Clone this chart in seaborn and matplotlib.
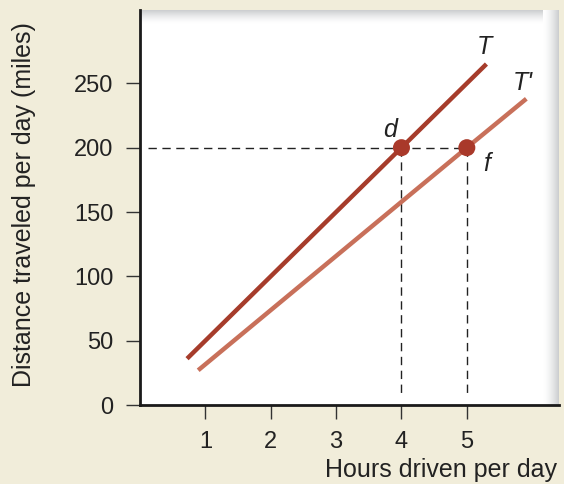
import numpy as np
import pandas as pd
import matplotlib
matplotlib.use('Agg')
import matplotlib.pyplot as plt
import seaborn as sns
from matplotlib.colors import LinearSegmentedColormap

# Values
hours_T = [0.72, 4.0, 5.3]
miles_T = [36, 200, 265]
hours_Tp = [0.89, 5.0, 5.91]
miles_Tp = [27, 200, 238]
point_hours = [4, 5]
point_miles = [200, 200]
x_ticks = [1, 2, 3, 4, 5]
y_ticks = [0, 50, 100, 150, 200, 250]

beige = '#f1edda'
dark_red = '#a63c2b'
light_red = '#c8705a'

sns.set_theme(style='white')
plt.rcParams['font.family'] = ['Liberation Sans', 'DejaVu Sans']

fig = plt.figure(figsize=(5.64, 4.84), dpi=100, facecolor=beige)
ax = fig.add_axes([140 / 564, 1 - 405 / 484, 419 / 564, 395 / 484])
ax.set_facecolor('white')

# Shaded top and right edges of the white panel
shade = LinearSegmentedColormap.from_list('shade', ['white', '#cbcdcf'])
grad = np.linspace(0, 1, 64) ** 1.5
ax.imshow(grad.reshape(-1, 1), cmap=shade, aspect='auto', origin='lower',
          extent=[0, 1, 1 - 14 / 395, 1], transform=ax.transAxes, zorder=0)
ax.imshow(grad.reshape(1, -1), cmap=shade, aspect='auto',
          extent=[1 - 16 / 419, 1, 0, 1], transform=ax.transAxes, zorder=0)

df_T = pd.DataFrame({'hours': hours_T, 'miles': miles_T})
df_Tp = pd.DataFrame({'hours': hours_Tp, 'miles': miles_Tp})
sns.lineplot(data=df_T, x='hours', y='miles', ax=ax, color=dark_red, lw=3.2,
             solid_capstyle='butt', zorder=3)
sns.lineplot(data=df_Tp, x='hours', y='miles', ax=ax, color=light_red, lw=3.2,
             solid_capstyle='butt', zorder=3)

# Dashed guide lines
dash = dict(color='#222222', lw=1.0, dashes=(6, 4), zorder=2)
ax.plot([0.12, point_hours[1]], [point_miles[0], point_miles[0]], **dash)
for h, m in zip(point_hours, point_miles):
    ax.plot([h, h], [m, 8], **dash)

pts = pd.DataFrame({'hours': point_hours, 'miles': point_miles})
sns.scatterplot(data=pts, x='hours', y='miles', ax=ax, color='#a9392a',
                s=150, edgecolor='none', zorder=4)

lab = dict(fontsize=18, style='italic', color='#222222')
ax.text(5.27, 278, 'T', ha='center', va='center', **lab)
ax.text(5.85, 250, "T'", ha='center', va='center', **lab)
ax.text(3.83, 214, 'd', ha='center', va='center', **lab)
ax.text(5.3, 187, 'f', ha='center', va='center', **lab)

ax.set_xlim(0, 6.41)
ax.set_ylim(0, 307)
ax.set_xticks(x_ticks)
ax.set_yticks(y_ticks)
ax.tick_params(axis='both', direction='out', length=10, width=1.0,
               color='#333333', labelsize=17, labelcolor='#222222',
               bottom=True, left=True, pad=9)
for side in ['top', 'right']:
    ax.spines[side].set_visible(False)
for side in ['left', 'bottom']:
    ax.spines[side].set_color('#1a1a1a')
    ax.spines[side].set_linewidth(2.0)

ax.set_xlabel('')
ax.set_ylabel('')
fig.text(557 / 564, 1 - 470 / 484, 'Hours driven per day', ha='right',
         va='center', fontsize=18, color='#222222')
fig.text(24 / 564, 1 - 205 / 484, 'Distance traveled per day (miles)',
         rotation=90, ha='center', va='center', fontsize=18, color='#222222')

fig.savefig('out.png', dpi=100, facecolor=beige)
